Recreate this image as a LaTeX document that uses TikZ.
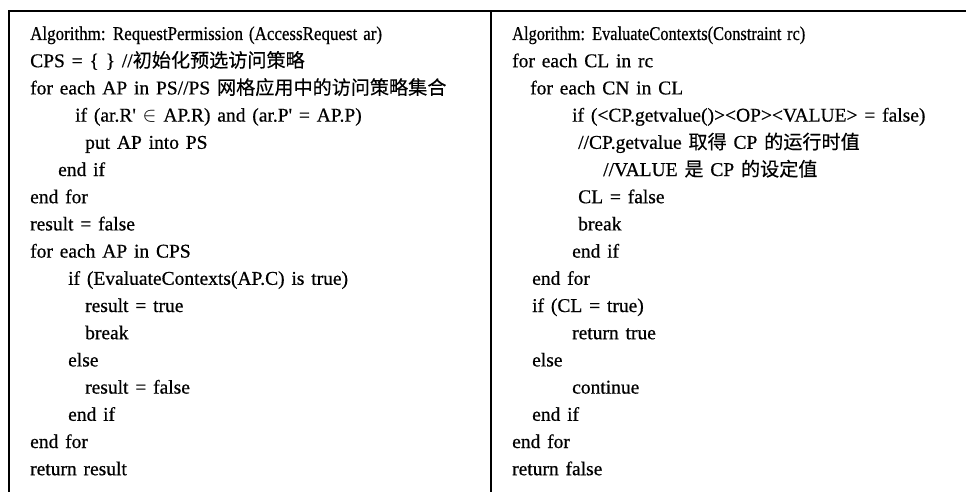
\documentclass[tikz,border=0pt]{standalone}
\usepackage{fontspec}
\setmainfont{Liberation Serif}[FakeBold=0.6, WordSpace=1.4]
\newfontfamily\cjk{Noto Sans CJK SC}[Scale=0.98, FakeBold=0.3]

\begin{document}
\begin{tikzpicture}[x=1pt, y=-1pt,
  codeline/.style={anchor=base west, inner sep=0pt, black,
                   font=\fontsize{19.5}{22}\selectfont},
  rule/.style={black, line width=1.5pt}]

\useasboundingbox (0,0) rectangle (966,492);
\fill[white] (0,0) rectangle (966,492);

% === FRAME ===
\draw[rule] (9,492) -- (9,11) -- (966,11);
\draw[rule] (491,11) -- (491,492);

% ============================================================
% LEFT: RequestPermission
% ============================================================
\node[codeline] (rp1)  at (30,40)    {\scalebox{0.87}[1]{Algorithm: RequestPermission (AccessRequest ar)}};
\node[codeline] (rp2)  at (30,67.2)  {CPS = \{ \} //{\cjk 初始化预选访问策略}};
\node[codeline] (rp3)  at (30,94.4)  {for each AP in PS//PS {\cjk 网格应用中的访问策略集合}};
\node[codeline] (rp4)  at (75,121.6) {if (ar.R\textquotesingle{} $\in$ AP.R) and (ar.P\textquotesingle{} = AP.P)};
\node[codeline] (rp5)  at (85,148.8) {put AP into PS};
\node[codeline] (rp6)  at (58,176)   {end if};
\node[codeline] (rp7)  at (30,203.2) {end for};
\node[codeline] (rp8)  at (30,230.4) {result = false};
\node[codeline] (rp9)  at (30,257.6) {for each AP in CPS};
\node[codeline] (rp10) at (68,284.8) {if (EvaluateContexts(AP.C) is true)};
\node[codeline] (rp11) at (85,312)   {result = true};
\node[codeline] (rp12) at (85,339.2) {break};
\node[codeline] (rp13) at (68,366.4) {else};
\node[codeline] (rp14) at (85,393.6) {result = false};
\node[codeline] (rp15) at (68,420.8) {end if};
\node[codeline] (rp16) at (30,448)   {end for};
\node[codeline] (rp17) at (30,475.2) {return result};

% ============================================================
% RIGHT: EvaluateContexts
% ============================================================
\node[codeline] (ec1)  at (512,40)    {\scalebox{0.84}[1]{Algorithm: EvaluateContexts(Constraint rc)}};
\node[codeline] (ec2)  at (512,67.2)  {for each CL in rc};
\node[codeline] (ec3)  at (530,94.4)  {for each CN in CL};
\node[codeline] (ec4)  at (572,121.6) {if (<CP.getvalue()><OP><VALUE> = false)};
\node[codeline] (ec5)  at (578,148.8) {//CP.getvalue {\cjk 取得} CP {\cjk 的运行时值}};
\node[codeline] (ec6)  at (603,176)   {//VALUE {\cjk 是} CP {\cjk 的设定值}};
\node[codeline] (ec7)  at (578,203.2) {CL = false};
\node[codeline] (ec8)  at (578,230.4) {break};
\node[codeline] (ec9)  at (572,257.6) {end if};
\node[codeline] (ec10) at (532,284.8) {end for};
\node[codeline] (ec11) at (532,312)   {if (CL = true)};
\node[codeline] (ec12) at (572,339.2) {return true};
\node[codeline] (ec13) at (532,366.4) {else};
\node[codeline] (ec14) at (572,393.6) {continue};
\node[codeline] (ec15) at (532,420.8) {end if};
\node[codeline] (ec16) at (512,448)   {end for};
\node[codeline] (ec17) at (512,475.2) {return false};

\end{tikzpicture}
\end{document}
